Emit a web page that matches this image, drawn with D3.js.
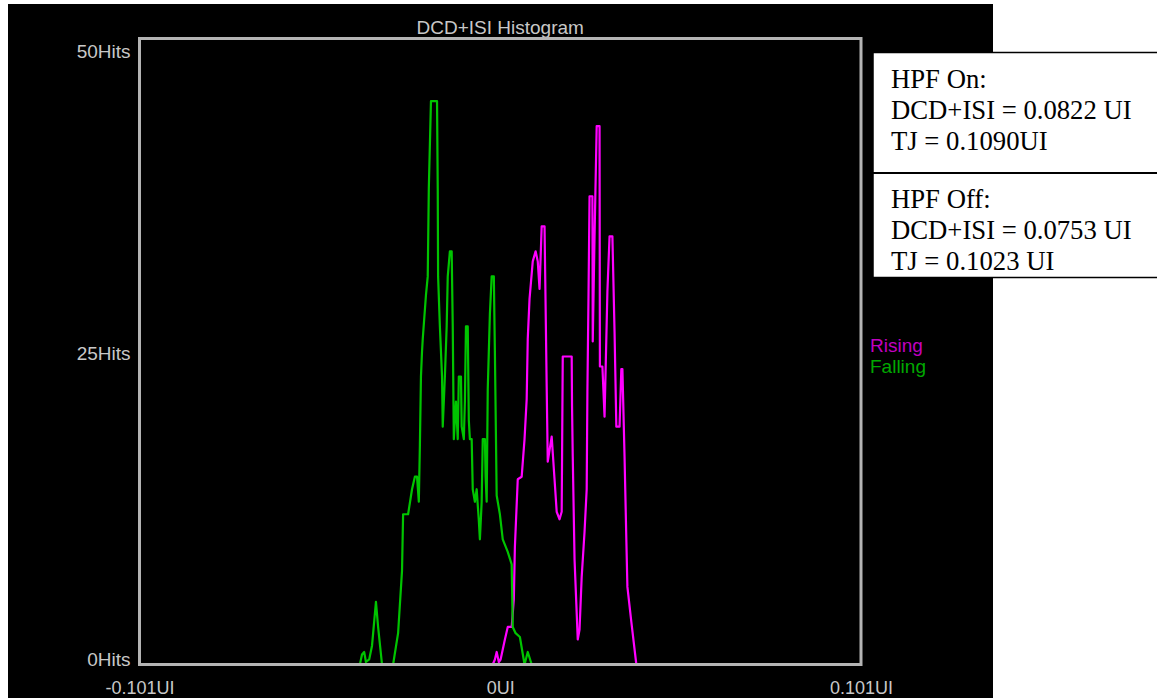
<!DOCTYPE html>
<html>
<head>
<meta charset="utf-8">
<script src="https://cdn.jsdelivr.net/npm/d3@7"></script>
<style>
  html, body { margin: 0; padding: 0; background: #fff; }
  svg { display: block; }
</style>
</head>
<body>
<svg id="chart" width="1157" height="698"></svg>
<script>
// x values in milli-UI, counts in hits
const xTicks = [-101, 0, 101];
const xTickLabels = ["-0.101UI", "0UI", "0.101UI"];
const yTicks = [50, 25, 0];
const yTickLabels = ["50Hits", "25Hits", "0Hits"];
const seriesNames = ["Rising", "Falling"];

const fallingX = [-39.3,-38.7,-38.1,-37.6,-36.7,-35.9,-34.8,-34.2,-33.1,-30.0,-28.6,-27.5,-27.2,-25.8,-24.7,-23.9,-23.3,-22.8,-22.5,-22.2,-21.9,-21.7,-20.8,-20.3,-20.0,-19.4,-17.7,-17.5,-17.4,-16.9,-16.3,-16.1,-15.5,-15.0,-14.7,-14.1,-13.6,-13.3,-13.0,-12.4,-11.9,-11.6,-11.0,-10.8,-10.2,-9.9,-9.6,-9.1,-8.8,-8.5,-8.0,-7.7,-7.1,-6.6,-6.0,-5.7,-5.2,-4.9,-4.3,-4.1,-3.8,-3.5,-2.9,-2.4,-1.8,-1.5,-1.0,-0.1,0.7,2.1,3.2,3.5,4.3,5.5,6.8,7.7,8.8];
const fallingHits = [0,0.8,1,0.2,0.4,1.5,5,3,0,0,2.5,7.5,12,12,14,15,15,13,17.5,23,25,26,29.5,31,38,45,45,38,31,27,23,19,23,27,31,33,33,27,18,21,18,23,23,19,18,21,27,27,19.5,18,18,14,13,14,11.5,10,13,18,18,15,13,22,28,31,31,25,13.5,12,10,9,8,3,2.5,2.2,0,1,0];

const risingX = [-2.1,-1.5,-1.0,-0.4,0.1,1.3,2.1,3.2,3.8,4.1,4.9,6.0,6.8,7.4,7.7,8.2,9.1,9.9,10.5,11.0,11.6,12.4,12.7,13.0,13.3,14.4,15.2,15.8,16.6,17.2,17.5,20.0,20.1,20.3,20.8,21.7,22.2,22.8,23.6,24.2,24.4,24.7,25.0,25.8,25.9,26.4,27.0,27.8,27.9,28.6,29.2,30.0,30.6,31.4,32.0,32.5,33.4,33.9,34.2,34.8,35.3,35.6,36.7,38.1];
const risingHits = [0,0.4,1,0.2,0.4,2,3,3,5.2,9.4,14.8,15,18,21.2,26,29.2,32.2,33,32.2,30,35,35,28.6,22.2,16.2,18.2,14.8,12.2,11.6,12.2,24.6,24.6,20.6,16.6,8.4,2,2.8,7,10.6,14,21.8,29.2,37.4,37.4,25.8,34.2,43,43,23.8,23.8,19.8,29.8,34.2,34.2,26.6,19,19,23.6,23.6,16.6,10,6.2,3.4,0];

const hpfOnLines = ["HPF On:", "DCD+ISI = 0.0822 UI", "TJ = 0.1090UI"];
const hpfOffLines = ["HPF Off:", "DCD+ISI = 0.0753 UI", "TJ = 0.1023 UI"];

const svg = d3.select("svg#chart");
const plot = { left: 139.5, right: 861, top: 38.5, bottom: 664.5 };
const labelFont = "'Liberation Sans', Arial, sans-serif";
const gray = "#b4b4b4";

const xScale = d3.scaleLinear().domain([-101, 101]).range([plot.left, plot.right]);
const yScale = d3.scaleLinear().domain([0, 50]).range([plot.bottom, plot.top]);

// black scope screen
svg.append("rect")
  .attr("x", 8).attr("y", 4)
  .attr("width", 985).attr("height", 694)
  .attr("fill", "#000");

// title
svg.append("text")
  .attr("x", xScale(0)).attr("y", 34)
  .attr("text-anchor", "middle")
  .attr("font-family", labelFont).attr("font-size", 19)
  .attr("fill", "#c8c8c8")
  .text("DCD+ISI Histogram");

// curves
const line = d3.line()
  .x((d) => xScale(d[0]))
  .y((d) => yScale(d[1]));

const rising = risingX.map((x, i) => [x, risingHits[i]]);
const falling = fallingX.map((x, i) => [x, fallingHits[i]]);

svg.append("path")
  .datum(rising)
  .attr("d", line)
  .attr("fill", "none")
  .attr("stroke", "#ff00ff")
  .attr("stroke-width", 2.2)
  .attr("stroke-linejoin", "round");

svg.append("path")
  .datum(falling)
  .attr("d", line)
  .attr("fill", "none")
  .attr("stroke", "#00c400")
  .attr("stroke-width", 2.2)
  .attr("stroke-linejoin", "round");

// frame
svg.append("rect")
  .attr("x", plot.left).attr("y", plot.top)
  .attr("width", plot.right - plot.left)
  .attr("height", plot.bottom - plot.top)
  .attr("fill", "none")
  .attr("stroke", gray)
  .attr("stroke-width", 3);

// axes (labels only, the frame draws the lines)
const xAxis = d3.axisBottom(xScale)
  .tickValues(xTicks)
  .tickSize(0)
  .tickFormat((d, i) => xTickLabels[i]);

const gx = svg.append("g")
  .attr("transform", `translate(0,${plot.bottom})`)
  .call(xAxis);
gx.select(".domain").remove();
gx.selectAll("text")
  .attr("y", 29).attr("dy", 0)
  .attr("font-family", labelFont).attr("font-size", 18)
  .attr("fill", "#c8c8c8");

const yAxis = d3.axisLeft(yScale)
  .tickValues(yTicks)
  .tickSize(0)
  .tickFormat((d, i) => yTickLabels[i]);

const gy = svg.append("g")
  .attr("transform", `translate(${plot.left},0)`)
  .call(yAxis);
gy.select(".domain").remove();
gy.selectAll("text")
  .attr("x", -9)
  .attr("dy", (d, i) => (i == 0 ? 18.5 : i == 1 ? 7.5 : 0.5))
  .attr("font-family", labelFont).attr("font-size", 19)
  .attr("fill", "#c8c8c8");

// legend
const legendColors = ["#c000c0", "#00a800"];
svg.selectAll("text.legend")
  .data(seriesNames)
  .enter()
  .append("text")
  .attr("class", "legend")
  .attr("x", 870)
  .attr("y", (d, i) => 352 + i * 21)
  .attr("font-family", labelFont).attr("font-size", 19)
  .attr("fill", (d, i) => legendColors[i])
  .text((d) => d);

// annotation box
const box = svg.append("g");
box.append("rect")
  .attr("x", 873).attr("y", 52.5)
  .attr("width", 300).attr("height", 225)
  .attr("fill", "#fff")
  .attr("stroke", "#000").attr("stroke-width", 1.5);
box.append("line")
  .attr("x1", 873).attr("x2", 1157)
  .attr("y1", 173).attr("y2", 173)
  .attr("stroke", "#000").attr("stroke-width", 2);

function boxText(lines, y0) {
  box.selectAll(null)
    .data(lines)
    .enter()
    .append("text")
    .attr("x", 891)
    .attr("y", (d, i) => y0 + i * 31)
    .attr("font-family", "'Liberation Serif', 'Times New Roman', serif")
    .attr("font-size", 26.7)
    .attr("fill", "#000")
    .text((d) => d);
}
boxText(hpfOnLines, 88);
boxText(hpfOffLines, 208);
</script>
</body>
</html>
